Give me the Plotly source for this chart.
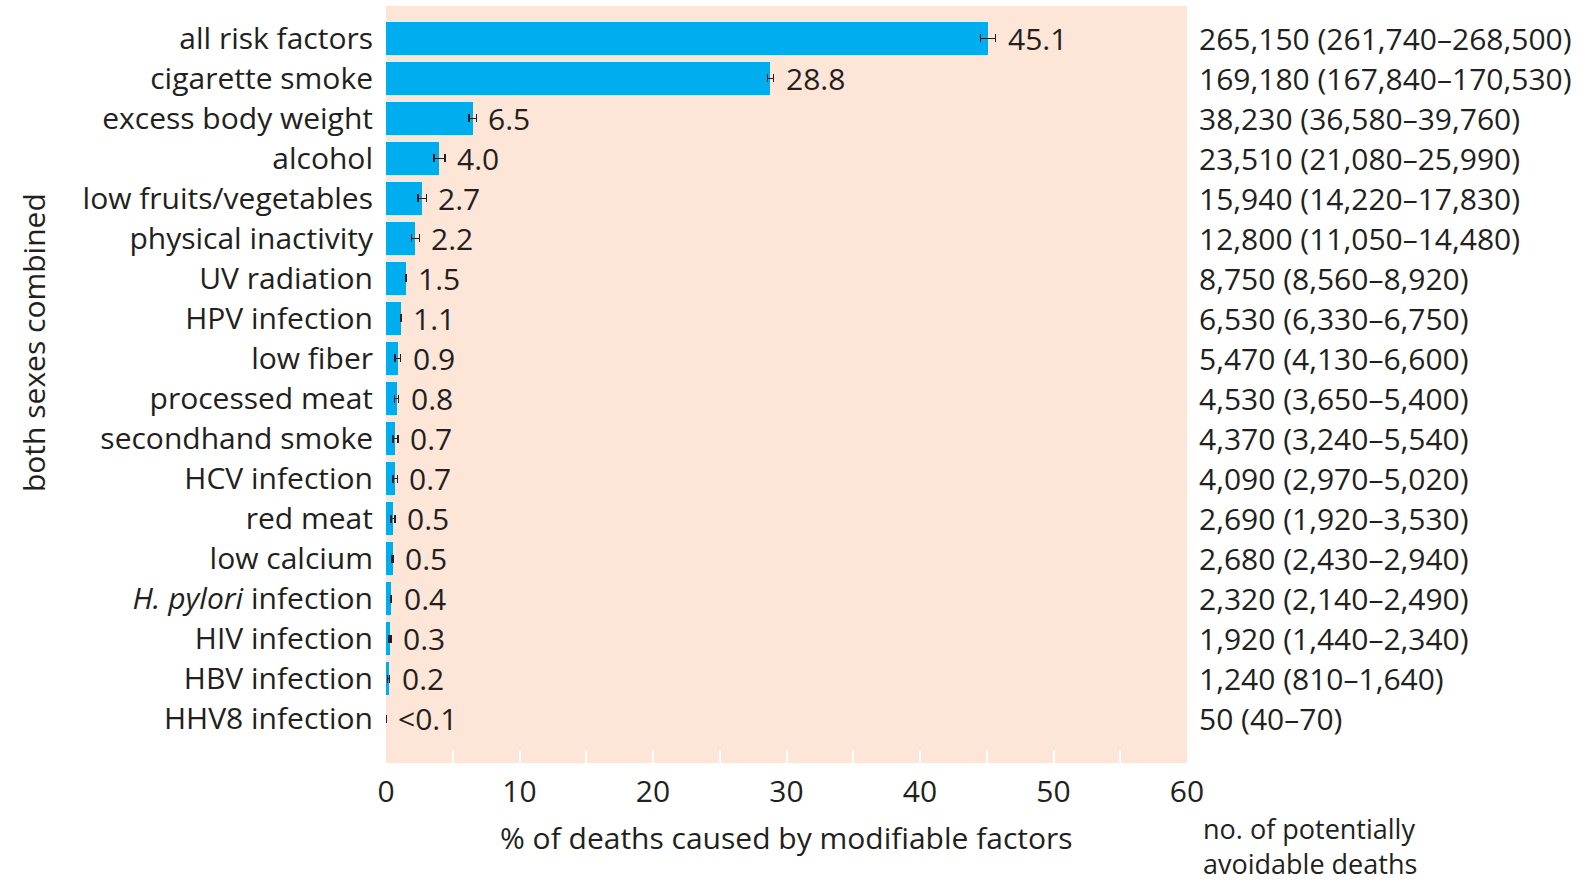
import plotly.graph_objects as go

# Risk factors, top to bottom
factors = [
    "all risk factors", "cigarette smoke", "excess body weight", "alcohol",
    "low fruits/vegetables", "physical inactivity", "UV radiation", "HPV infection",
    "low fiber", "processed meat", "secondhand smoke", "HCV infection",
    "red meat", "low calcium", "<i>H. pylori</i> infection", "HIV infection",
    "HBV infection", "HHV8 infection",
]
# % of cancer deaths attributable to each factor
pct = [45.1, 28.8, 6.5, 4.0, 2.7, 2.2, 1.5, 1.1, 0.9, 0.8, 0.7, 0.7, 0.5, 0.5, 0.4, 0.3, 0.2, 0.0]
pct_labels = ["45.1", "28.8", "6.5", "4.0", "2.7", "2.2", "1.5", "1.1", "0.9", "0.8",
              "0.7", "0.7", "0.5", "0.5", "0.4", "0.3", "0.2", "<0.1"]
# 95% interval on the percentage (below / above the estimate)
err_minus = [0.58, 0.23, 0.28, 0.41, 0.29, 0.30, 0.03, 0.035, 0.22, 0.155, 0.18, 0.19, 0.14, 0.05, 0.03, 0.075, 0.07, 0.0]
err_plus = [0.57, 0.23, 0.26, 0.42, 0.32, 0.29, 0.03, 0.035, 0.19, 0.154, 0.19, 0.16, 0.16, 0.05, 0.03, 0.066, 0.065, 0.0]
# Number of potentially avoidable deaths (with interval)
deaths = [
    "265,150 (261,740–268,500)", "169,180 (167,840–170,530)", "38,230 (36,580–39,760)",
    "23,510 (21,080–25,990)", "15,940 (14,220–17,830)", "12,800 (11,050–14,480)",
    "8,750 (8,560–8,920)", "6,530 (6,330–6,750)", "5,470 (4,130–6,600)",
    "4,530 (3,650–5,400)", "4,370 (3,240–5,540)", "4,090 (2,970–5,020)",
    "2,690 (1,920–3,530)", "2,680 (2,430–2,940)", "2,320 (2,140–2,490)",
    "1,920 (1,440–2,340)", "1,240 (810–1,640)", "50 (40–70)",
]
x_ticks = list(range(0, 61, 5))
x_ticktext = [str(v) if v % 10 == 0 else "" for v in x_ticks]

FONT = "Open Sans"
TEXT = "#231f20"
BLUE = "#00aeef"
PEACH = "#fde5d8"
FS = 30

rows = list(range(len(factors)))

fig = go.Figure()
fig.add_trace(go.Bar(
    x=pct, y=rows, orientation="h", width=0.83,
    marker=dict(color=BLUE, line=dict(width=0)),
    error_x=dict(type="data", symmetric=False, array=err_plus, arrayminus=err_minus,
                 color=TEXT, thickness=1.4, width=4),
    hoverinfo="skip",
))

annotations = []
for i in rows:
    annotations.append(dict(
        x=pct[i] + err_plus[i], y=i, xref="x", yref="y", text=pct_labels[i],
        showarrow=False, xanchor="left", yanchor="middle", xshift=10,
        font=dict(family=FONT, size=FS, color=TEXT),
    ))
    annotations.append(dict(
        x=1.0, y=i, xref="paper", yref="y", text=deaths[i],
        showarrow=False, xanchor="left", yanchor="middle", xshift=10,
        font=dict(family=FONT, size=FS, color=TEXT),
    ))

annotations += [
    dict(x=0.5, y=-0.098, xref="paper", yref="paper",
         text="% of deaths caused by modifiable factors", showarrow=False,
         xanchor="center", yanchor="middle", font=dict(family=FONT, size=FS, color=TEXT)),
    dict(x=1.0, y=-0.1096, xref="paper", yref="paper",
         text="no. of potentially<br>avoidable deaths", align="left",
         showarrow=False, xanchor="left", yanchor="middle", xshift=14,
         font=dict(family=FONT, size=27, color=TEXT)),
    dict(x=-0.44, y=7.6, xref="paper", yref="y", text="both sexes combined",
         showarrow=False, textangle=-90, xanchor="center", yanchor="middle",
         font=dict(family=FONT, size=FS, color=TEXT)),
]

fig.update_layout(
    width=1581, height=885,
    margin=dict(l=386, r=394, t=6, b=122),
    paper_bgcolor="white", plot_bgcolor=PEACH,
    showlegend=False, bargap=0,
    annotations=annotations,
    xaxis=dict(
        range=[0, 60], tickvals=x_ticks, ticktext=x_ticktext,
        ticks="inside", ticklen=13, tickwidth=1.5, tickcolor="white",
        showgrid=False, zeroline=False, showline=False,
        tickfont=dict(family=FONT, size=FS, color=TEXT), ticklabelstandoff=8,
    ),
    yaxis=dict(
        range=[18.11, -0.81], tickvals=rows, ticktext=factors,
        showgrid=False, zeroline=False, showline=False, ticks="",
        tickfont=dict(family=FONT, size=FS, color=TEXT), ticklabelstandoff=12,
    ),
)

fig.write_html("out.html")
